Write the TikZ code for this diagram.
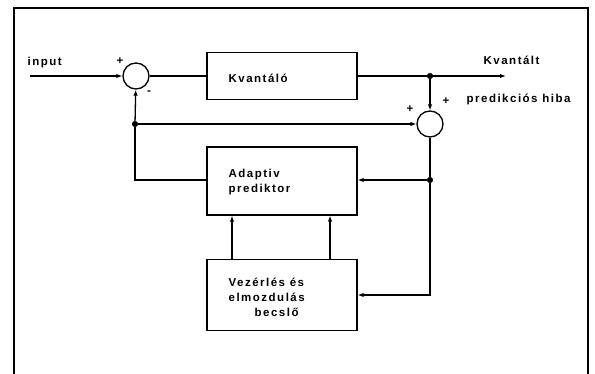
\documentclass[tikz,border=0pt]{standalone}
\usepackage{fontspec}
\setmainfont{Liberation Sans}[LetterSpace=13]
\usetikzlibrary{arrows.meta}
\begin{document}
\begin{tikzpicture}[x=1pt,y=-1pt,line width=1.3pt,
  blk/.style={draw,minimum width=150pt,inner sep=0pt},
  sumc/.style={draw,circle,minimum size=26pt,inner sep=0pt},
  lbl/.style={font=\bfseries\fontsize{11.5}{13}\selectfont,inner sep=0pt},
  arr/.style={-{Latex[length=6pt,width=4.5pt]}},
  dot/.style={circle,fill,draw,line width=0.5pt,inner sep=0pt,minimum size=5.5pt}]
\useasboundingbox (0,0) rectangle (595,374);
% frame
\draw (14,374) -- (14,8) -- (588,8) -- (588,374);
% blocks
\node[blk,minimum height=47pt] (kv) at (282,76) {};
\node[lbl,anchor=west] at (228,78) {Kvantáló};
\node[blk,minimum height=68pt] (ap) at (282,181) {};
\node[lbl,anchor=west,align=left] at (228,182) {Adaptiv\\[2pt]prediktor};
\node[blk,minimum height=71pt] (vz) at (282,295) {};
\node[lbl,anchor=west,align=left] at (228,297) {Vezérlés és\\[2pt]elmozdulás\\[2pt]\hspace*{26pt}becslő};
% summers
\node[sumc] (s1) at (136,76) {};
\node[sumc] (s2) at (430,124) {};
% junctions and free ends
\coordinate (in) at (30,76);
\coordinate (out) at (506,76);
\node[dot] (j1) at (430,76) {};
\node[dot] (j2) at (135,124) {};
\node[dot] (j3) at (430,180) {};
\coordinate (c1) at (135,180);
\coordinate (c2) at (430,295);
% labels
\node[lbl,anchor=west] at (27,63) {input};
\node[lbl] at (120,61) {+};
\node[lbl] at (149,93) {-};
\node[lbl] at (410,109) {+};
\node[lbl] at (446,101) {+};
\node[lbl,anchor=west] at (483,60) {Kvantált};
\node[lbl,anchor=west] at (466,99) {predikciós hiba};
% connectors
\draw[arr] (in) -- (s1);
\draw (s1) -- (kv);
\draw[arr] (kv) -- (out);
\draw[arr] (j1) -- (s2);
\draw[arr] (j2) -- (s2);
\draw[arr] (j2) -- (s1);
\draw (j2) -- (c1) -- (ap.west |- c1);
\draw (s2) -- (j3);
\draw[arr] (j3) -- (ap.east |- j3);
\draw[arr] (j3) -- (c2) -- (vz.east |- c2);
\draw[arr] (vz.north -| 232,0) -- (ap.south -| 232,0);
\draw[arr] (vz.north -| 330,0) -- (ap.south -| 330,0);
\end{tikzpicture}
\end{document}
